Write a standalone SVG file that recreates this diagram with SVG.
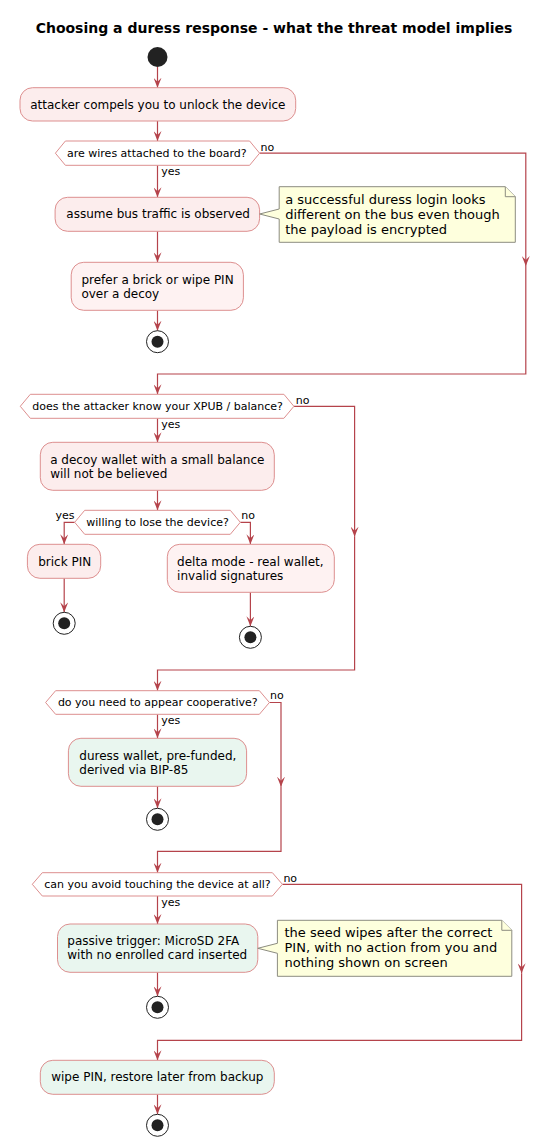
<svg xmlns="http://www.w3.org/2000/svg" width="550" height="1146" viewBox="0 0 550 1146">
<defs>
<style>
text{font-family:"DejaVu Sans","Liberation Sans",sans-serif;fill:#000}
.title{font-size:14px;font-weight:bold}
.act{font-size:12px}
.dia{font-size:11px}
.lbl{font-size:11px}
.note{font-size:13px}
.box{fill:#FCEDED;stroke:#DD8F8F;stroke-width:1}
.box2{fill:#FEF2F2;stroke:#DD8F8F;stroke-width:1}
.ok{fill:#E9F6EF;stroke:#DD8F8F;stroke-width:1}
.hex{fill:#FFFFFF;stroke:#DD8F8F;stroke-width:1}
.nt{fill:#FEFFDD;stroke:#8C8C80;stroke-width:1}
.start{fill:#222222}
.stopo{fill:#FFFFFF;stroke:#222222;stroke-width:1}
.stopi{fill:#222222}
.edge{fill:none;stroke:#B5434B;stroke-width:1.2}
</style>
<marker id="ah" viewBox="0 0 10 8" refX="10" refY="4" markerWidth="10" markerHeight="8" markerUnits="userSpaceOnUse" orient="auto">
<path d="M0,0 L10,4 L0,8 L4,4 Z" fill="#B5434B"/>
</marker>
</defs>
<rect width="550" height="1146" fill="#FFFFFF"/>
<text class="title" x="274" y="33" text-anchor="middle">Choosing a duress response - what the threat model implies</text>

<g id="connectors">
<path class="edge" marker-end="url(#ah)" d="M157.5,67 V87.7"/>
<path class="edge" marker-end="url(#ah)" d="M157.5,121 V141"/>
<path class="edge" marker-end="url(#ah)" d="M157.5,165.3 V197.3"/>
<path class="edge" marker-end="url(#ah)" d="M157.5,231.3 V262.3"/>
<path class="edge" marker-end="url(#ah)" d="M157.5,310.3 V330.7"/>
<path class="edge" marker-end="url(#ah)" d="M259.6,153.2 H525.8 V266"/>
<path class="edge" marker-end="url(#ah)" d="M525.8,266 V374 H157.5 V394.3"/>
<path class="edge" marker-end="url(#ah)" d="M157.5,418.3 V442.3"/>
<path class="edge" marker-end="url(#ah)" d="M157.5,490.3 V510.3"/>
<path class="edge" marker-end="url(#ah)" d="M74.7,522.3 H64.2 V544.3"/>
<path class="edge" marker-end="url(#ah)" d="M64.2,578.3 V612.3"/>
<path class="edge" marker-end="url(#ah)" d="M240.3,522.3 H250.4 V544.3"/>
<path class="edge" marker-end="url(#ah)" d="M250.4,592.3 V626.3"/>
<path class="edge" marker-end="url(#ah)" d="M293.9,406.3 H354.6 V536.7"/>
<path class="edge" marker-end="url(#ah)" d="M354.6,536.7 V670 H157.5 V690.7"/>
<path class="edge" marker-end="url(#ah)" d="M157.5,714.3 V738.3"/>
<path class="edge" marker-end="url(#ah)" d="M157.5,786.3 V808.3"/>
<path class="edge" marker-end="url(#ah)" d="M269.4,702.5 H281 V786.7"/>
<path class="edge" marker-end="url(#ah)" d="M281,786.7 V851.3 H157.5 V872.7"/>
<path class="edge" marker-end="url(#ah)" d="M157.5,896 V924"/>
<path class="edge" marker-end="url(#ah)" d="M157.5,972.3 V996.3"/>
<path class="edge" marker-end="url(#ah)" d="M282.4,884.3 H521.6 V973.3"/>
<path class="edge" marker-end="url(#ah)" d="M521.6,973.3 V1040.3 H157.5 V1060.3"/>
<path class="edge" marker-end="url(#ah)" d="M157.5,1094.3 V1114.3"/>
<text class="lbl" x="260.6" y="151">no</text>
<text class="lbl" x="161.3" y="174.5">yes</text>
<text class="lbl" x="295.7" y="404">no</text>
<text class="lbl" x="161.3" y="427.8">yes</text>
<text class="lbl" x="74.5" y="519.3" text-anchor="end">yes</text>
<text class="lbl" x="241.3" y="519.3">no</text>
<text class="lbl" x="270.1" y="699.3">no</text>
<text class="lbl" x="161.3" y="724">yes</text>
<text class="lbl" x="283.4" y="881.7">no</text>
<text class="lbl" x="161.3" y="906">yes</text>
</g>

<g id="start"><circle class="start" cx="157.5" cy="57" r="10"/></g>

<g id="unlock">
<rect class="box" x="20" y="87.7" width="275.7" height="33.3" rx="12.5"/>
<text class="act" x="30.2" y="108.5">attacker compels you to unlock the device</text>
</g>

<g id="q-wires">
<polygon class="hex" points="55.4,153.2 65.4,141 249.6,141 259.6,153.2 249.6,165.3 65.4,165.3"/>
<text class="dia" x="67" y="156.7">are wires attached to the board?</text>
</g>

<g id="bus">
<rect class="box" x="55.1" y="197.3" width="204.5" height="34" rx="12.5"/>
<text class="act" x="66.3" y="218.3">assume bus traffic is observed</text>
</g>

<g id="note-bus">
<path class="nt" d="M279.2,186.7 L279.2,209 L259.6,214 L279.2,219 L279.2,242.3 L515.3,242.3 L515.3,196.7 L505.3,186.7 Z"/>
<path class="nt" d="M505.3,186.7 L505.3,196.7 L515.3,196.7"/>
<text class="note" x="285.2" y="203.6">a successful duress login looks</text>
<text class="note" x="285.2" y="218.6">different on the bus even though</text>
<text class="note" x="285.2" y="233.6">the payload is encrypted</text>
</g>

<g id="prefer-brick">
<rect class="box2" x="71.2" y="262.3" width="172.2" height="48" rx="12.5"/>
<text class="act" x="81.4" y="283.5">prefer a brick or wipe PIN</text>
<text class="act" x="81.4" y="297.5">over a decoy</text>
</g>

<g id="stop1">
<circle class="stopo" cx="157.5" cy="341.7" r="11"/>
<circle class="stopi" cx="157.5" cy="341.7" r="6"/>
</g>

<g id="q-xpub">
<polygon class="hex" points="20.3,406.3 30.3,394.3 283.9,394.3 293.9,406.3 283.9,418.3 30.3,418.3"/>
<text class="dia" x="32.3" y="409.8">does the attacker know your XPUB / balance?</text>
</g>

<g id="decoy">
<rect class="box" x="40.3" y="442.3" width="234" height="48" rx="12.5"/>
<text class="act" x="50.2" y="463.5">a decoy wallet with a small balance</text>
<text class="act" x="50.2" y="477.5">will not be believed</text>
</g>

<g id="q-lose">
<polygon class="hex" points="74.7,522.3 84.7,510.3 230.3,510.3 240.3,522.3 230.3,534.3 84.7,534.3"/>
<text class="dia" x="86.3" y="526">willing to lose the device?</text>
</g>

<g id="brick">
<rect class="box" x="27.4" y="544.3" width="73.3" height="34" rx="12.5"/>
<text class="act" x="38.2" y="565.5">brick PIN</text>
</g>

<g id="stop2">
<circle class="stopo" cx="64.2" cy="623.3" r="11"/>
<circle class="stopi" cx="64.2" cy="623.3" r="6"/>
</g>

<g id="delta">
<rect class="box2" x="167.3" y="544.3" width="167" height="48" rx="12.5"/>
<text class="act" x="177.1" y="565.5">delta mode - real wallet,</text>
<text class="act" x="177.1" y="579.5">invalid signatures</text>
</g>

<g id="stop3">
<circle class="stopo" cx="250.4" cy="637.3" r="11"/>
<circle class="stopi" cx="250.4" cy="637.3" r="6"/>
</g>

<g id="q-coop">
<polygon class="hex" points="45.6,702.5 55.6,690.7 259.4,690.7 269.4,702.5 259.4,714.3 55.6,714.3"/>
<text class="dia" x="57.9" y="706">do you need to appear cooperative?</text>
</g>

<g id="duress-wallet">
<rect class="ok" x="68.4" y="738.3" width="178.2" height="48" rx="12.5"/>
<text class="act" x="79.3" y="759.5">duress wallet, pre-funded,</text>
<text class="act" x="79.3" y="773.5">derived via BIP-85</text>
</g>

<g id="stop4">
<circle class="stopo" cx="157.5" cy="819.3" r="11"/>
<circle class="stopi" cx="157.5" cy="819.3" r="6"/>
</g>

<g id="q-avoid">
<polygon class="hex" points="32.3,884.3 42.3,872.7 272.4,872.7 282.4,884.3 272.4,896 42.3,896"/>
<text class="dia" x="44.2" y="887.8">can you avoid touching the device at all?</text>
</g>

<g id="passive">
<rect class="ok" x="57.5" y="924" width="200.3" height="48.3" rx="12.5"/>
<text class="act" x="67.3" y="945.3">passive trigger: MicroSD 2FA</text>
<text class="act" x="67.3" y="959.3">with no enrolled card inserted</text>
</g>

<g id="note-passive">
<path class="nt" d="M277.4,920.3 L277.4,943.3 L257.8,948.3 L277.4,953.3 L277.4,976.3 L511.8,976.3 L511.8,930.3 L501.8,920.3 Z"/>
<path class="nt" d="M501.8,920.3 L501.8,930.3 L511.8,930.3"/>
<text class="note" x="284.5" y="937.3">the seed wipes after the correct</text>
<text class="note" x="284.5" y="952.3">PIN, with no action from you and</text>
<text class="note" x="284.5" y="967.3">nothing shown on screen</text>
</g>

<g id="stop5">
<circle class="stopo" cx="157.5" cy="1007.3" r="11"/>
<circle class="stopi" cx="157.5" cy="1007.3" r="6"/>
</g>

<g id="wipe">
<rect class="ok" x="40.3" y="1060.3" width="234" height="34" rx="12.5"/>
<text class="act" x="51.2" y="1081">wipe PIN, restore later from backup</text>
</g>

<g id="stop6">
<circle class="stopo" cx="157.5" cy="1125.3" r="11"/>
<circle class="stopi" cx="157.5" cy="1125.3" r="6"/>
</g>
</svg>
